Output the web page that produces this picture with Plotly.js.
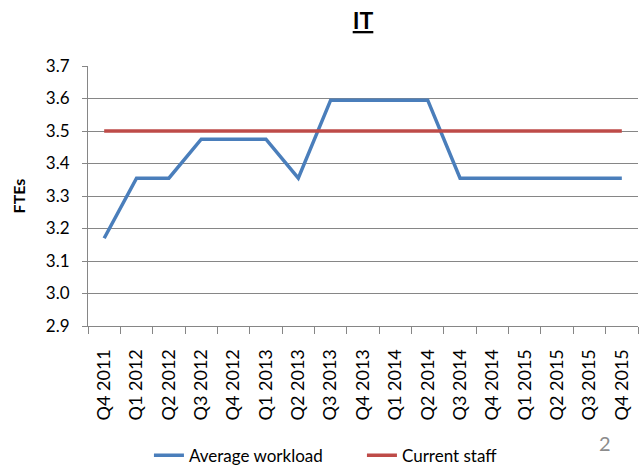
<!DOCTYPE html>
<html>
<head>
<meta charset="utf-8">
<script src="https://cdn.plot.ly/plotly-3.0.1.min.js"></script>
<style>html,body{margin:0;padding:0;background:#fff;}#chart{width:642px;height:466px;}</style>
</head>
<body>
<div id="chart"></div>
<script>
const quarters = ["Q4 2011","Q1 2012","Q2 2012","Q3 2012","Q4 2012","Q1 2013","Q2 2013","Q3 2013","Q4 2013","Q1 2014","Q2 2014","Q3 2014","Q4 2014","Q1 2015","Q2 2015","Q3 2015","Q4 2015"];
const averageWorkload = [3.17,3.355,3.355,3.475,3.475,3.475,3.355,3.595,3.595,3.595,3.595,3.355,3.355,3.355,3.355,3.355,3.355];
const currentStaff = [3.5,3.5,3.5,3.5,3.5,3.5,3.5,3.5,3.5,3.5,3.5,3.5,3.5,3.5,3.5,3.5,3.5];
const yTicks = [2.9,3.0,3.1,3.2,3.3,3.4,3.5,3.6,3.7];

const font = "Lato, 'Open Sans', sans-serif";
const traces = [
  {x: quarters, y: averageWorkload, type: "scatter", mode: "lines", name: "Average workload",
   line: {color: "#4A7EBB", width: 3.5}},
  {x: quarters, y: currentStaff, type: "scatter", mode: "lines", name: "Current staff",
   line: {color: "#BE4B48", width: 3.5}}
];
const layout = {
  width: 642, height: 466,
  margin: {l: 88, r: 4, t: 66, b: 140, autoexpand: false},
  paper_bgcolor: "#fff", plot_bgcolor: "#fff",
  font: {family: font, color: "#000", size: 17},
  title: {text: "<b><u>IT</u></b>", x: 0.5, xref: "paper", y: 0.955, yanchor: "middle",
          font: {family: font, size: 23, color: "#000"}},
  xaxis: {type: "category", tickangle: -90, tickson: "boundaries", ticks: "outside", ticklen: 7,
          tickcolor: "#868686", showline: true, linecolor: "#868686", linewidth: 1,
          showgrid: false, zeroline: false, range: [-0.5, 16.5], automargin: false,
          ticklabelstandoff: 15,
          tickfont: {family: font, size: 18, color: "#000"}},
  yaxis: {range: [2.9, 3.7], tickvals: yTicks, ticktext: yTicks.map(v => v.toFixed(1)),
          ticks: "outside", ticklen: 5, tickcolor: "#868686", automargin: false,
          showline: true, linecolor: "#868686", linewidth: 1, ticklabelstandoff: 9,
          showgrid: true, gridcolor: "#868686", gridwidth: 1, zeroline: false,
          tickfont: {family: font, size: 17, color: "#000"},
          title: {text: "<b>FTEs</b>", font: {family: font, size: 16, color: "#000"}, standoff: 16}},
  showlegend: true,
  legend: {orientation: "h", xref: "container", x: 0.232, xanchor: "left", yref: "container", y: 0.022, yanchor: "middle",
           entrywidth: 168, entrywidthmode: "pixels",
           font: {family: font, size: 17, color: "#000"}, tracegroupgap: 0,
           bgcolor: "rgba(0,0,0,0)"},
  annotations: [{text: "2", xref: "paper", yref: "paper", x: 0.94, y: -0.45, showarrow: false,
                 xanchor: "center", yanchor: "middle", font: {family: font, size: 20, color: "#8c8c8c"}}]
};
Plotly.newPlot("chart", traces, layout, {displayModeBar: false, staticPlot: true});
</script>
</body>
</html>
